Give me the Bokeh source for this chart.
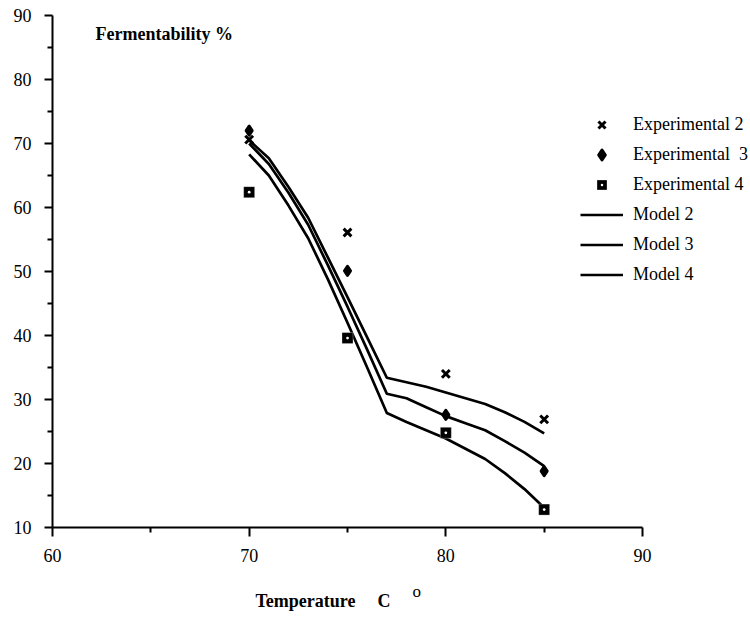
from bokeh.plotting import figure
from bokeh.models import (Range1d, FixedTicker, Label, Legend, LegendItem)
from bokeh.embed import file_html
from bokeh.resources import INLINE

# ---------------- data ----------------
temp_exp = [70, 75, 80, 85]
exp2 = [70.6, 56.1, 34.0, 26.9]
exp3 = [72.0, 50.1, 27.6, 18.8]
exp4 = [62.4, 39.6, 24.8, 12.8]

temp_model = [70, 71, 72, 73, 74, 75, 76, 77, 78, 79, 80, 81, 82, 83, 84, 85]
model2 = [70.5, 67.7, 63.2, 58.4, 52.2, 46.0, 39.7, 33.4, 32.7, 32.0, 31.1, 30.2, 29.3, 28.0, 26.5, 24.7]
model3 = [70.0, 66.8, 62.3, 57.3, 51.0, 44.5, 37.8, 30.9, 30.2, 28.8, 27.4, 26.3, 25.2, 23.5, 21.7, 19.6]
model4 = [68.3, 65.0, 60.3, 55.2, 48.8, 42.0, 35.0, 27.9, 26.5, 25.2, 23.9, 22.3, 20.7, 18.5, 16.0, 13.1]

x_ticks = [60, 70, 80, 90]
x_minor = [65, 75, 85]
y_ticks = [10, 20, 30, 40, 50, 60, 70, 80, 90]
y_minor = [15, 25, 35, 45, 55, 65, 75, 85]

FONT = "Liberation Serif"
AXIS_FONT = '"Liberation Serif", serif'

W, H = 750, 617
# pixel geometry of the reference: x 60->52px, 90->642px ; y 10->527px, 90->15px
PX_X = 590 / 30.0
PX_Y = 512 / 80.0
p = figure(width=W, height=H, output_backend="svg", toolbar_location=None,
           x_range=Range1d(60 - 52 / PX_X, 60 + (W - 52) / PX_X),
           y_range=Range1d(10 - (H - 527) / PX_Y, 90 + 15 / PX_Y),
           min_border=0)
p.outline_line_color = None
p.xgrid.visible = False
p.ygrid.visible = False
p.background_fill_color = "white"
p.border_fill_color = "white"

for ax in (p.xaxis[0], p.yaxis[0]):
    ax.axis_line_width = 2
    ax.axis_line_color = "black"
    ax.major_tick_line_width = 2
    ax.minor_tick_line_width = 2
    ax.major_tick_line_color = "black"
    ax.minor_tick_line_color = "black"
    ax.major_tick_in = 0
    ax.minor_tick_in = 0
    ax.major_label_text_font = AXIS_FONT
    ax.major_label_text_font_size = "18px"
    ax.major_label_text_color = "black"

p.xaxis.ticker = FixedTicker(ticks=x_ticks, minor_ticks=x_minor)
p.yaxis.ticker = FixedTicker(ticks=y_ticks, minor_ticks=y_minor)
p.xaxis.bounds = (60, 90)
p.yaxis.bounds = (10, 90)
p.xaxis.fixed_location = 10
p.yaxis.fixed_location = 60
p.xaxis.major_tick_out = 9
p.xaxis.minor_tick_out = 5
p.yaxis.major_tick_out = 8
p.yaxis.minor_tick_out = 5
p.xaxis.major_label_standoff = 12
p.yaxis.major_label_standoff = 13

LW = 2.7
l2 = p.line(temp_model, model2, line_color="black", line_width=LW)
l3 = p.line(temp_model, model3, line_color="black", line_width=LW)
l4 = p.line(temp_model, model4, line_color="black", line_width=LW)

s2 = p.scatter(temp_exp, exp2, marker="x", size=11, line_color="black", line_width=3)
s3 = p.scatter(temp_exp, exp3, marker="diamond", size=9, fill_color="black",
               line_color="black", line_width=3, line_join="round")
s4 = p.scatter(temp_exp, exp4, marker="square_dot", size=11, fill_color="black",
               line_color="white", line_width=0.3)

legend = Legend(items=[
    LegendItem(label="Experimental 2", renderers=[s2]),
    LegendItem(label="Experimental  3", renderers=[s3]),
    LegendItem(label="Experimental 4", renderers=[s4]),
    LegendItem(label="Model 2", renderers=[l2]),
    LegendItem(label="Model 3", renderers=[l3]),
    LegendItem(label="Model 4", renderers=[l4]),
], location=(580, H - 286.5))
legend.background_fill_alpha = 0
legend.border_line_color = None
legend.padding = 0
legend.margin = 0
legend.spacing = 5
legend.glyph_width = 43
legend.glyph_height = 25
legend.label_height = 25
legend.label_standoff = 10
legend.label_text_font = FONT
legend.label_text_font_size = "18px"
legend.label_text_color = "black"
p.add_layout(legend, "center")

def add_text(x, y, text, size="18px", style="bold"):
    p.add_layout(Label(x=x, y=H - y, x_units="screen", y_units="screen",
                       text=text, text_font=FONT, text_font_size=size,
                       text_font_style=style, text_baseline="middle",
                       text_color="black"))

add_text(95, 33, "Fermentability %")
add_text(255, 600, "Temperature")
add_text(377, 600, "C")
add_text(412, 591, "o", size="17px", style="normal")

open("out.html", "w").write(file_html(p, INLINE))
